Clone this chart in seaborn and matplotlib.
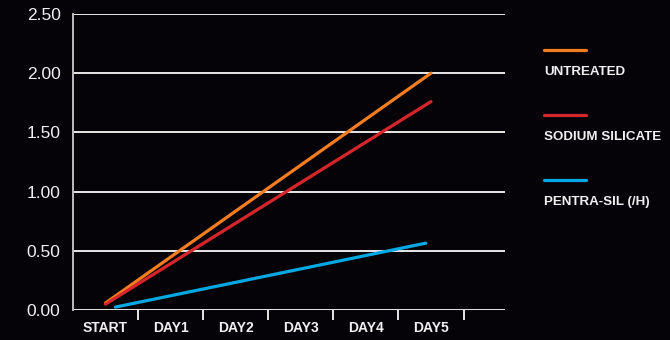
import pandas as pd
import matplotlib.pyplot as plt
import seaborn as sns
from matplotlib.lines import Line2D

# Values (only the end points, lines are straight)
days = ["START", "DAY1", "DAY2", "DAY3", "DAY4", "DAY5"]
series_names = ["UNTREATED", "SODIUM SILICATE", "PENTRA-SIL (/H)"]
untreated_x = [0.0, 5.0]
untreated = [0.06, 2.00]
sodium_x = [0.0, 5.0]
sodium = [0.05, 1.76]
pentra_x = [0.15, 4.92]
pentra = [0.025, 0.565]
y_ticks = [0.0, 0.5, 1.0, 1.5, 2.0, 2.5]

colors = ["#F47D20", "#D7262B", "#00A9E3"]
bg = "#050308"
txt = "#f0f0f0"
fam = ["Liberation Sans", "DejaVu Sans"]

df = pd.concat([
    pd.DataFrame({"x": untreated_x, "y": untreated, "series": series_names[0]}),
    pd.DataFrame({"x": sodium_x, "y": sodium, "series": series_names[1]}),
    pd.DataFrame({"x": pentra_x, "y": pentra, "series": series_names[2]}),
])

sns.set_theme(style="dark")
plt.rcParams["font.family"] = fam

fig = plt.figure(figsize=(6.7, 3.4), dpi=100, facecolor=bg)
ax = fig.add_axes([0.109, 0.088, 0.645, 0.871])
ax.set_facecolor(bg)

sns.lineplot(data=df, x="x", y="y", hue="series", palette=dict(zip(series_names, colors)),
             linewidth=2.3, legend=False, ax=ax, estimator=None, sort=False)

ax.set_xlim(-0.5, 6.14)
ax.set_ylim(0, 2.5)

# horizontal grid
for v in y_ticks:
    ax.axhline(v, color="#e8e8e8", linewidth=1.4, zorder=0)
ax.set_yticks(y_ticks)
ax.set_yticklabels([f"{v:.2f}" for v in y_ticks], color=txt, fontsize=12.5, family=fam)
ax.tick_params(axis="y", length=5, width=1.4, color="#e8e8e8", pad=4)

# category boundaries get tick marks, labels sit at centers
ax.set_xticks([i + 0.5 for i in range(len(days))])
ax.set_xticklabels([])
ax.set_xticks(range(len(days)), minor=True)
ax.set_xticklabels(days, minor=True, color=txt, fontsize=10, fontweight="bold", family=fam)
ax.tick_params(axis="x", which="major", length=7, width=1.4, color="#e8e8e8", bottom=True)
ax.tick_params(axis="x", which="minor", length=0, pad=8)

ax.set_xlabel("")
ax.set_ylabel("")
for s in ["top", "right", "bottom"]:
    ax.spines[s].set_visible(False)
ax.spines["left"].set_color("#bdbdbd")
ax.spines["left"].set_linewidth(1.4)
ax.grid(False)

# legend drawn by hand, stacked on the right
leg_y = [0.853, 0.662, 0.471]
for name, c, y in zip(series_names, colors, leg_y):
    fig.add_artist(Line2D([0.812, 0.875], [y, y], color=c, linewidth=2.3,
                          transform=fig.transFigure))
    fig.text(0.812, y - 0.065, name, color=txt, fontsize=9.6, fontweight="bold",
             va="center", ha="left", family=fam)

plt.savefig("out.png", dpi=100, facecolor=bg)
